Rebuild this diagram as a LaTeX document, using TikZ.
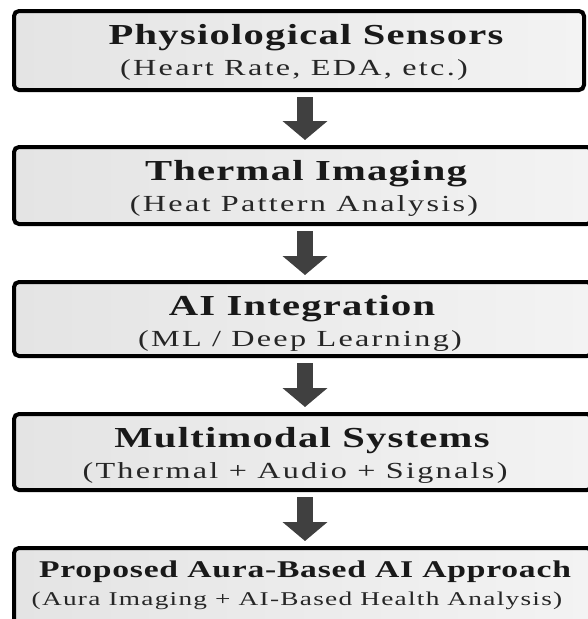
\documentclass[tikz,border=0pt]{standalone}
\usepackage{fontspec}
\setmainfont{Liberation Serif}
\newfontfamily\ttlfont[FakeStretch=1.4,LetterSpace=4.3]{Liberation Serif Bold}
\newfontfamily\subfont[FakeStretch=1.4,LetterSpace=10]{Liberation Serif}
\newfontfamily\ttlfontB[FakeStretch=1.4,LetterSpace=3.2]{Liberation Serif Bold}
\newfontfamily\subfontB[FakeStretch=1.4,LetterSpace=6.5]{Liberation Serif}
\usetikzlibrary{arrows.meta}
\definecolor{arrowgray}{HTML}{404040}
\definecolor{boxleft}{HTML}{E4E4E4}
\definecolor{boxright}{HTML}{F3F3F3}
\tikzset{
  stagebox/.style={draw=black, line width=4pt, rounded corners=5pt, outer sep=0pt,
    left color=boxleft, right color=boxright, minimum width=570pt, inner sep=0pt},
  widebox/.style={stagebox, minimum width=578pt},
  ttl/.style={anchor=base, font=\ttlfont\fontsize{29}{32}\selectfont, inner sep=0pt, text=black!90},
  sub/.style={anchor=base, font=\subfont\fontsize{23}{26}\selectfont, inner sep=0pt, text=black!85},
  ttlsmall/.style={anchor=base, font=\ttlfontB\fontsize{24}{27}\selectfont, inner sep=0pt, text=black!90},
  subsmall/.style={anchor=base, font=\subfontB\fontsize{19.5}{22}\selectfont, inner sep=0pt, text=black!85},
  flow/.style={draw=arrowgray, line width=16pt, -{Triangle[width=44pt,length=19pt]},
    shorten <=7pt, shorten >=7pt},
}
\begin{document}
\begin{tikzpicture}[x=1pt,y=-1pt]
\useasboundingbox (0,0) rectangle (588,619);
\fill[white] (0,0) rectangle (588,619);
\node[stagebox, minimum height=79pt] (b1) at (299,50.5) {};
\node[widebox, minimum height=77pt] (b2) at (303,185.5) {};
\node[widebox, minimum height=74pt] (b3) at (303,319) {};
\node[widebox, minimum height=76pt] (b4) at (303,452) {};
\node[widebox, minimum height=80pt] (b5) at (303,588) {};
\node[ttl] (t1) at (306,44) {Physiological Sensors};
\node[sub] (s1) at (294,75) {(Heart Rate, EDA, etc.)};
\node[ttl] (t2) at (306,180) {Thermal Imaging};
\node[sub] (s2) at (304,211) {(Heat Pattern Analysis)};
\node[ttl] (t3) at (302,315) {AI Integration};
\node[sub] (s3) at (300,346) {(ML / Deep Learning)};
\node[ttl] (t4) at (302,447) {Multimodal Systems};
\node[sub] (s4) at (295,478) {(Thermal + Audio + Signals)};
\node[ttlsmall] (t5) at (305,577) {Proposed Aura-Based AI Approach};
\node[subsmall] (s5) at (297,605) {(Aura Imaging + AI-Based Health Analysis)};
\draw[flow] (b1.south -| 305,0) -- (b2.north -| 305,0);
\draw[flow] (b2.south -| 305,0) -- (b3.north -| 305,0);
\draw[flow] (b3.south -| 305,0) -- (b4.north -| 305,0);
\draw[flow] (b4.south -| 305,0) -- (b5.north -| 305,0);
\end{tikzpicture}
\end{document}
